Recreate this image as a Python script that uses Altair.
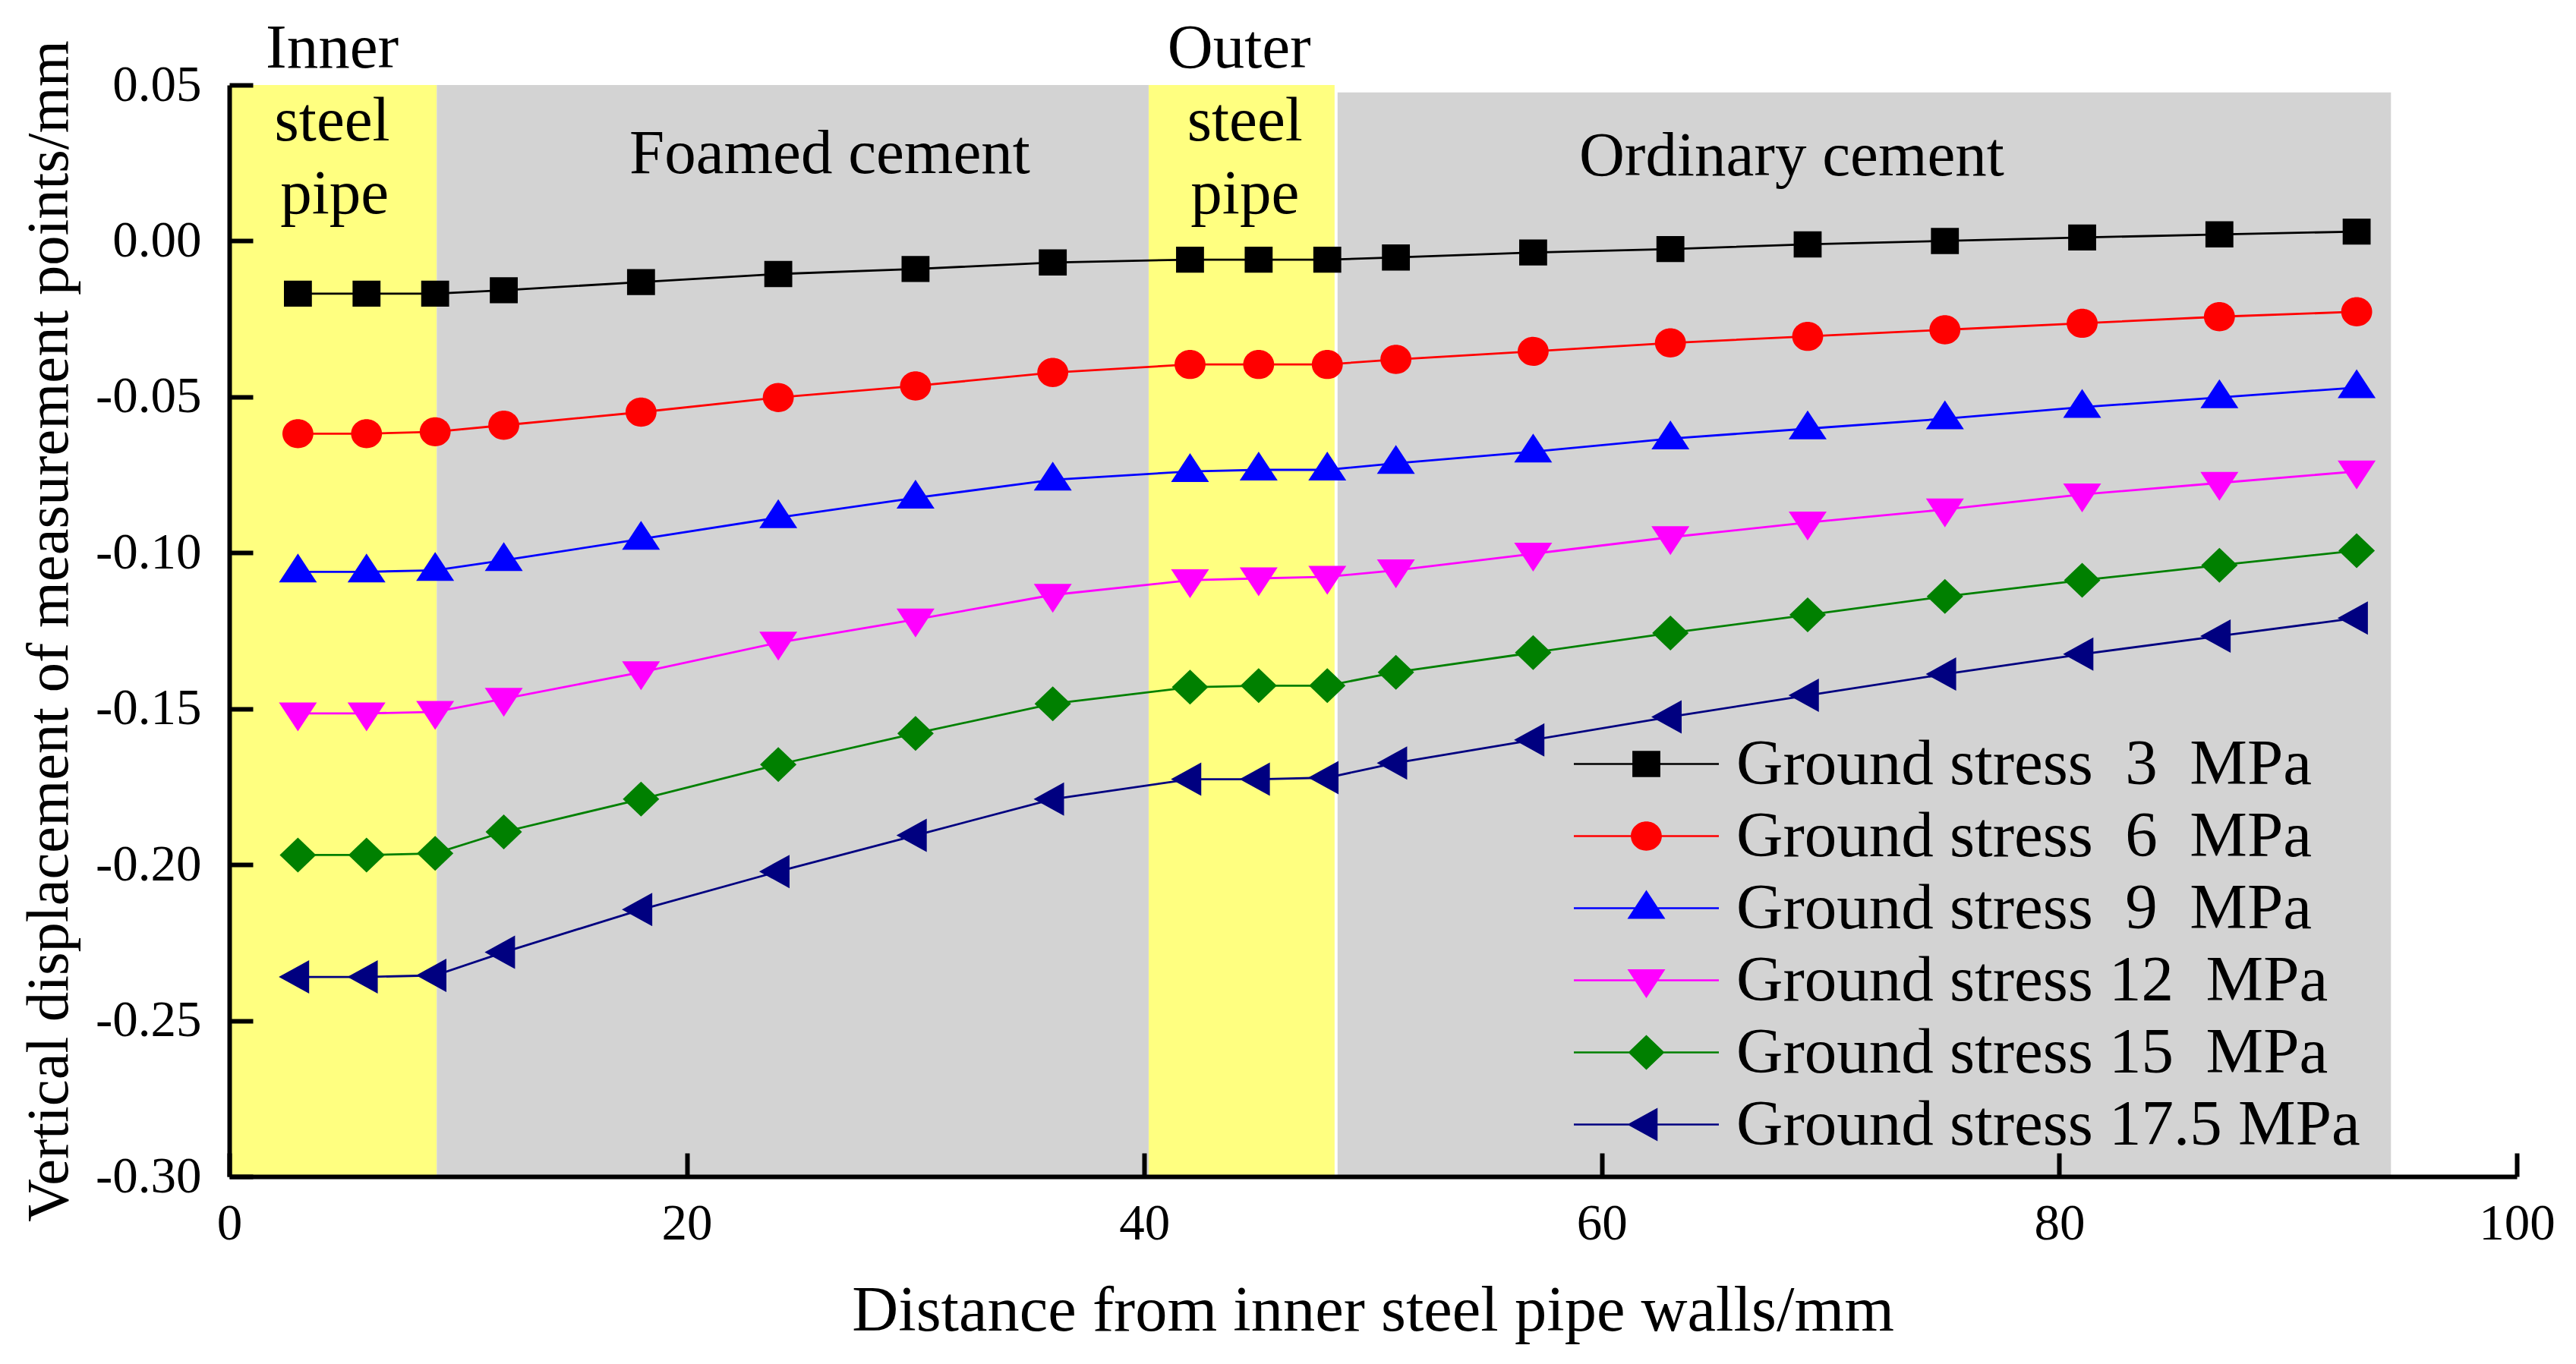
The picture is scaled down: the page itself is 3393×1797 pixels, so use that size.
import altair as alt
import pandas as pd

FONT = "Liberation Serif"

# ---------------- data ----------------
x_mm = [3, 6, 9, 12, 18, 24, 30, 36, 42, 45, 48, 51, 57, 63, 69, 75, 81, 87, 93]

s3 = [-0.0169, -0.0169, -0.0169, -0.0158, -0.0132, -0.0106, -0.0090, -0.0069, -0.0060, -0.0060, -0.0060,
      -0.0053, -0.0037, -0.0026, -0.0011, 0.0000, 0.0011, 0.0021, 0.0030]
s6 = [-0.0618, -0.0618, -0.0612, -0.0591, -0.0549, -0.0502, -0.0465, -0.0422, -0.0396, -0.0396, -0.0396,
      -0.0380, -0.0354, -0.0327, -0.0306, -0.0285, -0.0264, -0.0243, -0.0227]
s9 = [-0.1061, -0.1061, -0.1056, -0.1024, -0.0956, -0.0887, -0.0824, -0.0766, -0.0739, -0.0734, -0.0734,
      -0.0713, -0.0676, -0.0634, -0.0602, -0.0570, -0.0533, -0.0502, -0.0470]
s12 = [-0.1515, -0.1515, -0.1510, -0.1468, -0.1383, -0.1288, -0.1214, -0.1135, -0.1088, -0.1082, -0.1077,
       -0.1056, -0.1003, -0.0950, -0.0903, -0.0861, -0.0813, -0.0776, -0.0739]
s15 = [-0.1969, -0.1969, -0.1964, -0.1895, -0.1790, -0.1679, -0.1579, -0.1484, -0.1431, -0.1426, -0.1426,
       -0.1383, -0.1320, -0.1257, -0.1199, -0.1140, -0.1088, -0.1040, -0.0993]
s175 = [-0.2360, -0.2360, -0.2355, -0.2281, -0.2144, -0.2022, -0.1906, -0.1790, -0.1726, -0.1726, -0.1721,
        -0.1674, -0.1600, -0.1526, -0.1457, -0.1389, -0.1325, -0.1267, -0.1209]

NB = "\u00a0"
labels = [
    f"Ground stress{NB} 3{NB} MPa",
    f"Ground stress{NB} 6{NB} MPa",
    f"Ground stress{NB} 9{NB} MPa",
    f"Ground stress 12{NB} MPa",
    f"Ground stress 15{NB} MPa",
    "Ground stress 17.5 MPa",
]
series_values = [s3, s6, s9, s12, s15, s175]
colors = ["#000000", "#FF0000", "#0000FF", "#FF00FF", "#008000", "#000080"]

# material bands
band_kind = ["steel", "cement", "steel", "cement"]
band_x0 = [0.0, 9.07, 40.19, 48.45]
band_x1 = [9.07, 40.19, 48.32, 94.5]
band_top = [0.05, 0.05, 0.05, 0.0476]
band_bottom = [-0.30, -0.30, -0.30, -0.30]

# region annotations
ann_text = ["Inner", "steel", "pipe", "Foamed cement", "Outer", "steel", "pipe", "Ordinary cement"]
ann_x = [4.5, 4.5, 4.6, 26.25, 44.15, 44.4, 44.4, 68.3]
ann_y = [0.0556, 0.0322, 0.0089, 0.0218, 0.0556, 0.0322, 0.0089, 0.0210]

x_ticks = [0, 20, 40, 60, 80, 100]
y_ticks = [0.05, 0.0, -0.05, -0.10, -0.15, -0.20, -0.25, -0.30]

# ---------------- marker shapes ----------------
def poly(pts, s=1.0):
    return "M" + "L".join(f"{px * s:.4f},{py * s:.4f}" for px, py in pts) + "Z"

def ellipse(rx, ry, s=1.0):
    a, b = rx * s, ry * s
    return f"M{-a:.4f},0A{a:.4f},{b:.4f},0,1,1,{a:.4f},0A{a:.4f},{b:.4f},0,1,1,{-a:.4f},0Z"

square_pts = [(-0.92, -0.86), (0.92, -0.86), (0.92, 0.86), (-0.92, 0.86)]
tri_up_pts = [(0.0, -1.2), (1.25, 0.7), (-1.25, 0.7)]
tri_dn_pts = [(-1.25, -0.72), (1.25, -0.72), (0.0, 1.18)]
diamond_pts = [(0.0, -1.15), (1.2, 0.0), (0.0, 1.15), (-1.2, 0.0)]
tri_lt_pts = [(-1.26, 0.0), (0.74, -1.1), (0.74, 1.1)]

def marker_paths(s):
    return [
        poly(square_pts, s),
        ellipse(1.02, 0.96, s),
        poly(tri_up_pts, s),
        poly(tri_dn_pts, s),
        poly(diamond_pts, s),
        poly(tri_lt_pts, s),
    ]

MARK_SIZE = 1600          # unit = 20 px
LEG_SIZE = 36481          # unit = 95.5 px -> 191 px wide symbol
k = 20.0 / 95.5
line_rect = "M-1,-0.0141L1,-0.0141L1,0.0141L-1,0.0141Z"
plot_paths = marker_paths(1.0)
legend_paths = [line_rect + p for p in marker_paths(k)]

# ---------------- frames ----------------
rows = []
for lab, vals in zip(labels, series_values):
    for xv, yv in zip(x_mm, vals):
        rows.append({"x": xv, "value": yv, "series": lab})
df = pd.DataFrame(rows)

bands = pd.DataFrame({"kind": band_kind, "x0": band_x0, "x1": band_x1,
                      "top": band_top, "bottom": band_bottom})
ann = pd.DataFrame({"text": ann_text, "x": ann_x, "value": ann_y})

# ---------------- scales / axes ----------------
W, H = 3013, 1438
TICK = 31

xscale = alt.Scale(domain=[0, 100], nice=False, zero=False)
yscale = alt.Scale(domain=[-0.30, 0.05], nice=False, zero=False)

xaxis = alt.Axis(
    title="Distance from inner steel pipe walls/mm", values=x_ticks, format="d",
    labelFont=FONT, labelFontSize=67, labelColor="black", labelPadding=29,
    labelFlush=False, labelOverlap=False,
    ticks=False, tickSize=0,
    domainColor="black", domainWidth=6,
    grid=True, gridColor="black", gridWidth=6, gridDash=[0, H - TICK, TICK, 5000], gridOpacity=1,
    titleFont=FONT, titleFontSize=84.5, titleFontWeight="normal", titleColor="black",
    titleX=1506, titleY=202, titleAlign="center", titleBaseline="alphabetic", titleAngle=0,
    zindex=1,
)
yaxis = alt.Axis(
    title="Vertical displacement of measurement points/mm", values=y_ticks,
    labelExpr="replace(format(datum.value, '.2f'), '\u2212', '-')",
    labelFont=FONT, labelFontSize=67, labelColor="black", labelPadding=37,
    labelFlush=False, labelOverlap=False,
    ticks=False, tickSize=0,
    domainColor="black", domainWidth=6,
    grid=True, gridColor="black", gridWidth=6, gridDash=[TICK, 5000], gridOpacity=1,
    titleFont=FONT, titleFontSize=78.5, titleFontWeight="normal", titleColor="black",
    titleX=-214, titleY=719, titleAlign="center", titleBaseline="alphabetic", titleAngle=270,
    zindex=1,
)

X = alt.X("x:Q", scale=xscale, axis=xaxis)
Y = alt.Y("value:Q", scale=yscale, axis=yaxis)

steel = alt.Chart(bands).transform_filter("datum.kind == 'steel'").mark_rect(
    color="#FFFF80", opacity=1).encode(
    x=alt.X("x0:Q", scale=xscale, axis=xaxis), x2="x1",
    y=alt.Y("top:Q", scale=yscale, axis=yaxis), y2="bottom")
cement = alt.Chart(bands).transform_filter("datum.kind == 'cement'").mark_rect(
    color="#D3D3D3", opacity=1).encode(
    x=alt.X("x0:Q", scale=xscale, axis=xaxis), x2="x1",
    y=alt.Y("top:Q", scale=yscale, axis=yaxis), y2="bottom")

layers = [steel, cement]

# one line layer + one marker layer per series (constant colour / shape)
for lab, col, path in zip(labels, colors, plot_paths):
    base = alt.Chart(df).transform_filter(alt.datum.series == lab)
    layers.append(base.mark_line(strokeWidth=2.8, color=col).encode(x=X, y=Y))
for lab, col, path in zip(labels, colors, plot_paths):
    base = alt.Chart(df).transform_filter(alt.datum.series == lab)
    layers.append(base.mark_point(filled=True, size=MARK_SIZE, opacity=1, strokeWidth=0,
                                  color=col, shape=path).encode(x=X, y=Y))

texts = alt.Chart(ann).mark_text(font=FONT, fontSize=83, color="black", align="center",
                                 baseline="alphabetic").encode(x=X, y=Y, text="text:N")
layers.append(texts)

leg = alt.Legend(
    title=None, orient="none", legendX=1771, legendY=847,
    labelFont=FONT, labelFontSize=85, labelColor="black", labelLimit=3000, labelOffset=23,
    symbolSize=LEG_SIZE, symbolStrokeWidth=0, symbolOpacity=1,
    rowPadding=0, clipHeight=95, padding=0,
)
legend_layer = alt.Chart(df).transform_filter("datum.x < 0").mark_point(
    filled=True, size=LEG_SIZE, opacity=1, strokeWidth=0).encode(
    x=X, y=Y,
    color=alt.Color("series:N", scale=alt.Scale(domain=labels, range=colors), legend=leg),
    shape=alt.Shape("series:N", scale=alt.Scale(domain=labels, range=legend_paths), legend=leg),
)
layers.append(legend_layer)

chart = alt.layer(*layers).properties(
    width=W, height=H,
    autosize=alt.AutoSizeParams(type="none"),
    padding={"left": 294, "top": 104, "right": 70, "bottom": 230},
    background="white",
).configure_view(stroke=None).configure_axis(
    labelFont=FONT, titleFont=FONT
).configure_legend(labelFont=FONT)

chart.save("out.html", embed_options={"renderer": "svg", "actions": False})
